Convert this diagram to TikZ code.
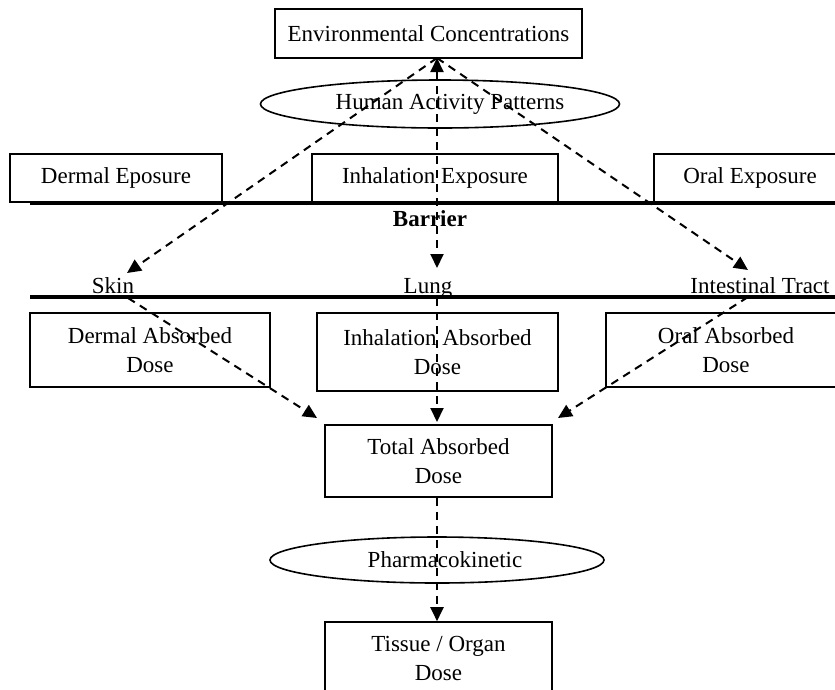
\documentclass[tikz,border=0pt]{standalone}
\usepackage{fontspec}
\setmainfont{Liberation Serif}
\usetikzlibrary{arrows.meta,shapes.geometric}
\begin{document}
\begin{tikzpicture}[x=1pt,y=-1pt,
  box/.style={draw, line width=1.6pt, inner sep=0pt, align=center, font=\fontsize{23}{29}\selectfont},
  oval/.style={draw, ellipse, line width=1.6pt, inner sep=0pt},
  lbl/.style={font=\fontsize{23}{29}\selectfont, inner sep=0pt},
  flow/.style={line width=2pt, dash pattern=on 8pt off 6pt, -{Triangle[length=14pt,width=13pt]}},
  barrier/.style={line width=3.2pt}]
\clip (0,0) rectangle (835,689);
\node[box, minimum width=307, minimum height=49] (env) at (428.5,33.5) {Environmental Concentrations};
\node[oval, minimum width=359, minimum height=48] (hap) at (440,104) {};
\node[lbl] (haptxt) at (450,104) {Human Activity Patterns};
\draw[barrier] (30,203) -- (835,203);
\node[box, minimum width=212, minimum height=48, fill=white] (dexp) at (116,178) {Dermal Eposure};
\node[box, minimum width=246, minimum height=48, fill=white] (iexp) at (435,178) {Inhalation Exposure};
\node[box, minimum width=192, minimum height=48, fill=white] (oexp) at (750,178) {Oral Exposure};
\node[lbl, font=\fontsize{23}{29}\selectfont\bfseries] (bar) at (430,219) {Barrier};
\node[lbl, anchor=base] (skin) at (113,293) {Skin};
\node[lbl, anchor=base] (lung) at (428,293) {Lung};
\node[lbl, anchor=base] (gut) at (760,293) {Intestinal Tract};
\draw[barrier] (30,297) -- (835,297);
\node[box, minimum width=240, minimum height=74] (dabs) at (150,350) {Dermal Absorbed\\Dose};
\node[box, minimum width=241, minimum height=78] (iabs) at (437.5,352) {Inhalation Absorbed\\Dose};
\node[box, minimum width=240, minimum height=74] (oabs) at (726,350) {Oral Absorbed\\Dose};
\node[box, minimum width=227, minimum height=72] (total) at (438.5,461) {Total Absorbed\\Dose};
\node[oval, minimum width=334, minimum height=46] (pk) at (437,560) {};
\node[lbl] (pktxt) at (445,560) {Pharmacokinetic};
\node[box, minimum width=227, minimum height=72] (tissue) at (438.5,658) {Tissue / Organ\\Dose};
\coordinate (src) at (437,58);
\coordinate (sk) at (127,273);
\coordinate (lg) at (437,268);
\coordinate (it) at (748,270);
\coordinate (skb) at (128,298);
\coordinate (lgb) at (437,298);
\coordinate (itb) at (748,297);
\coordinate (tl) at (317,418);
\coordinate (tc) at (437,422);
\coordinate (tr) at (558,418);
\draw[flow] (src) -- (sk);
\draw[flow] (src) -- (lg);
\draw[flow] (src) -- (it);
\draw[{Triangle[length=14pt,width=13pt]}-, line width=2pt] (src) -- ++(0,0.1);
\draw[flow] (skb) -- (tl);
\draw[flow] (lgb) -- (tc);
\draw[flow] (itb) -- (tr);
\draw[flow] (total.south -| src) -- (tissue.north -| src);
\end{tikzpicture}
\end{document}
